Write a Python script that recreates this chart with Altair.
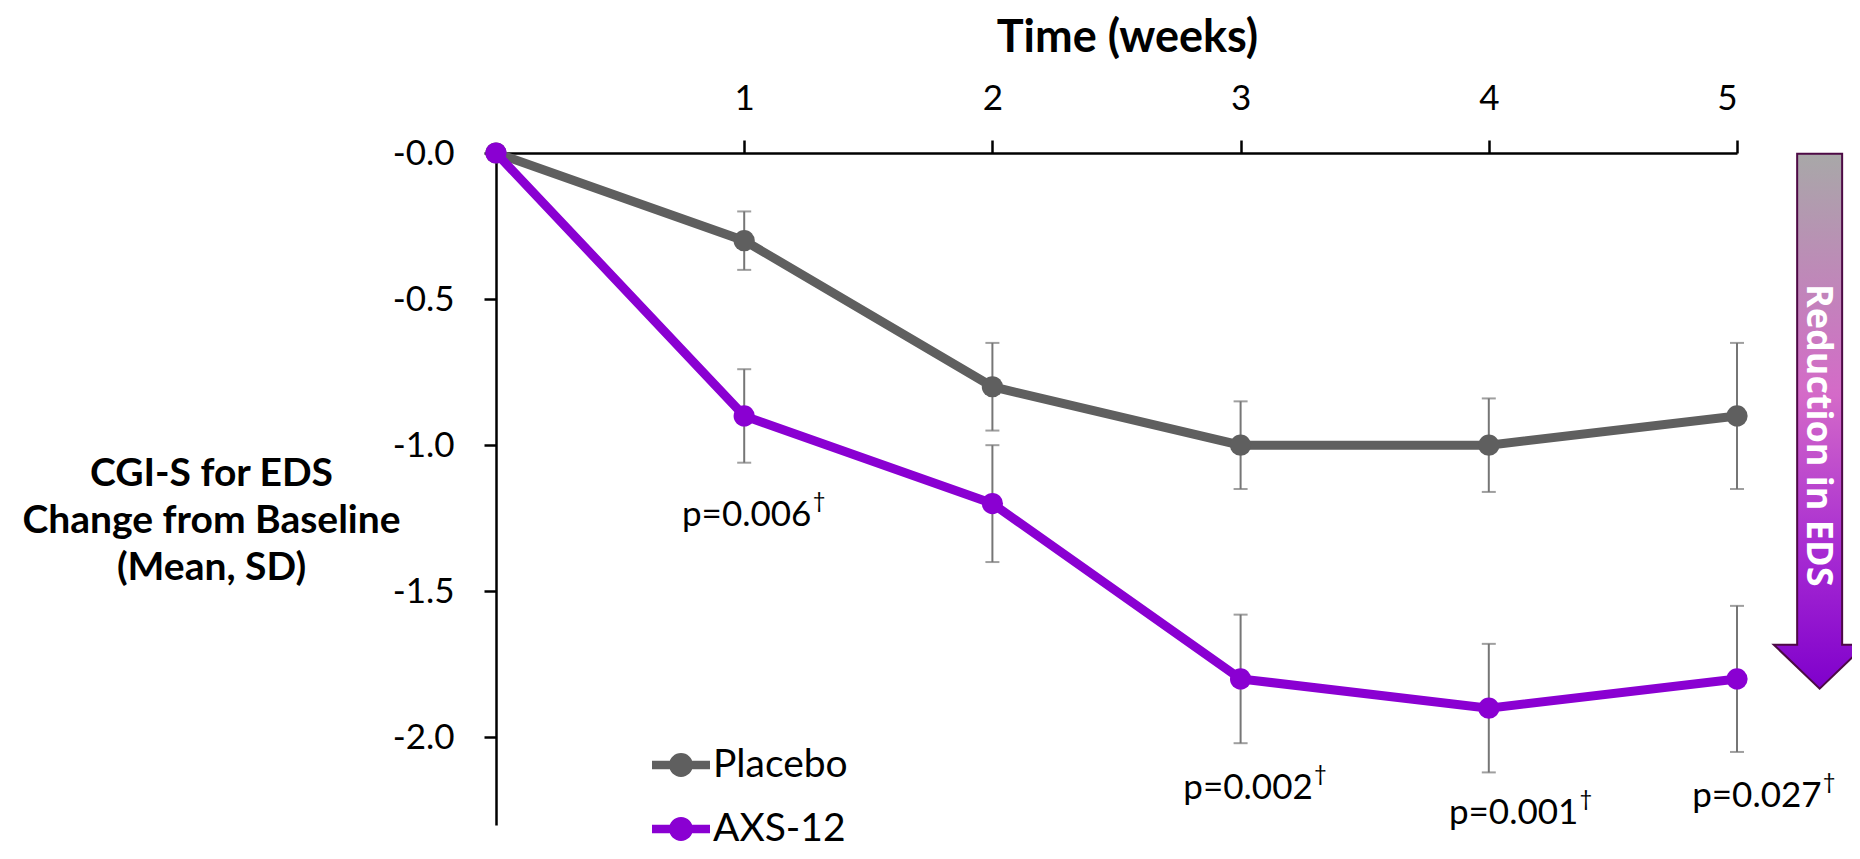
import altair as alt
import pandas as pd

# ---- data ----
weeks = [0, 1, 2, 3, 4, 5]
placebo_mean = [0.0, -0.30, -0.80, -1.00, -1.00, -0.90]
placebo_sd = [0.0, 0.10, 0.15, 0.15, 0.16, 0.25]
axs_mean = [0.0, -0.90, -1.20, -1.80, -1.90, -1.80]
axs_sd = [0.0, 0.16, 0.20, 0.22, 0.22, 0.25]
groups = ["Placebo", "AXS-12"]
colors = ["#5f5f5f", "#8a00d2"]

pval_week = [1.01, 3.03, 4.10, 5.08]
pval_y = [-1.24, -2.175, -2.26, -2.20]
pval_text = ["p=0.006", "p=0.002", "p=0.001", "p=0.027"]

x_ticks = [1, 2, 3, 4, 5]
y_ticks = [0, -0.5, -1.0, -1.5, -2.0]
y_title = ["CGI-S for EDS", "Change from Baseline", "(Mean, SD)"]
x_title = "Time (weeks)"

arrow_label = "Reduction in EDS"
arrow_pos = {"x": [5.333], "y": [-0.9195]}
arrow_text_pos = {"x": [5.327], "y": [-0.966]}

FONT = "Lato"

rows = []
for g, m, s in [("Placebo", placebo_mean, placebo_sd), ("AXS-12", axs_mean, axs_sd)]:
    for w, mv, sv in zip(weeks, m, s):
        rows.append({"week": w, "mean": mv, "sd": sv, "group": g,
                     "lo": mv - sv, "hi": mv + sv})
df = pd.DataFrame(rows)
err_df = df[df["sd"] > 0]
pdf = pd.DataFrame({"week": pval_week, "y": pval_y, "text": pval_text})

xscale = alt.Scale(domain=[0, 5], nice=False, zero=False)
yscale = alt.Scale(domain=[-2.3, 0], nice=False)

xaxis = alt.Axis(
    orient="top", values=x_ticks, format="d", title=x_title, grid=False,
    domainColor="black", domainWidth=2.5, tickColor="black", tickWidth=2.5, tickSize=13,
    labelFont=FONT, labelFontSize=35, labelColor="black", labelPadding=24,
    titleFont=FONT, titleFontSize=45, titleFontWeight="bold", titleColor="black",
    titleX=631, titleY=-116, titleAlign="center", titleBaseline="middle",
)
yaxis = alt.Axis(
    values=y_ticks, labelExpr="'-' + format(abs(datum.value), '.1f')", grid=False,
    domainColor="black", domainWidth=2.5, tickColor="black", tickWidth=2.5, tickSize=12,
    labelFont=FONT, labelFontSize=35, labelColor="black", labelPadding=30,
    title=y_title, titleAngle=0, titleX=-285, titleY=320, titleAlign="center",
    titleBaseline="middle", titleLineHeight=47,
    titleFont=FONT, titleFontSize=39, titleFontWeight="bold", titleColor="black",
)

X = alt.X("week:Q", scale=xscale, axis=xaxis)
Y = alt.Y("mean:Q", scale=yscale, axis=yaxis)

legend = alt.Legend(
    title=None, orient="none", legendX=156, legendY=583, padding=0,
    symbolType="M-1,-0.15H1V0.15H-1Z M-0.41,0A0.41,0.41 0 1,1 0.41,0A0.41,0.41 0 1,1 -0.41,0Z",
    symbolSize=3364, symbolStrokeWidth=0, symbolOpacity=1,
    labelFont=FONT, labelFontSize=39, labelColor="black", labelOffset=3,
    rowPadding=15, labelLimit=400,
)
color_leg = alt.Color("group:N", scale=alt.Scale(domain=groups, range=colors), legend=legend)

base = alt.Chart(df)
err = alt.Chart(err_df)

err_rule = err.mark_rule(color="#767676", strokeWidth=2).encode(
    x=alt.X("week:Q", scale=xscale), y=alt.Y("lo:Q", scale=yscale), y2="hi:Q")
cap_lo = err.mark_tick(color="#767676", orient="horizontal", size=14, thickness=2).encode(
    x=alt.X("week:Q", scale=xscale), y=alt.Y("lo:Q", scale=yscale))
cap_hi = err.mark_tick(color="#767676", orient="horizontal", size=14, thickness=2).encode(
    x=alt.X("week:Q", scale=xscale), y=alt.Y("hi:Q", scale=yscale))

gray_line = base.transform_filter(alt.datum.group == groups[0]).mark_line(
    strokeWidth=9, color=colors[0]).encode(x=X, y=Y)
gray_pts = base.transform_filter(alt.datum.group == groups[0]).mark_circle(
    size=450, opacity=1, color=colors[0]).encode(x=X, y=Y)
purple_line = base.transform_filter(alt.datum.group == groups[1]).mark_line(
    strokeWidth=9, color=colors[1]).encode(x=X, y=Y)
purple_pts = base.transform_filter(alt.datum.group == groups[1]).mark_circle(
    size=450, opacity=1).encode(x=X, y=Y, color=color_leg)

ptext = alt.Chart(pdf).mark_text(font=FONT, fontSize=35, color="black", align="center",
                                 baseline="middle").encode(
    x=alt.X("week:Q", scale=xscale), y=alt.Y("y:Q", scale=yscale), text="text:N")
dagger = alt.Chart(pdf).mark_text(font=FONT, fontSize=22, color="black", align="left",
                                  baseline="middle", dx=66, dy=-14).encode(
    x=alt.X("week:Q", scale=xscale), y=alt.Y("y:Q", scale=yscale), text=alt.value("\u2020"))

grad = alt.LinearGradient(
    gradient="linear", x1=0, x2=0, y1=0, y2=1,
    stops=[alt.GradientStop(offset=0, color="#a8a8a8"),
           alt.GradientStop(offset=0.45, color="#d46ac8"),
           alt.GradientStop(offset=0.75, color="#a62ad2"),
           alt.GradientStop(offset=1, color="#7f00cc")])
ARROW = ("M-0.0833,-0.9926L0.0833,-0.9926L0.0833,0.826L0.170,0.826L0,0.989"
         "L-0.170,0.826L-0.0833,0.826Z")
arrow = alt.Chart(pd.DataFrame(arrow_pos)).mark_point(
    shape=ARROW, size=291600, filled=True, fill=grad, stroke="#4d0a45", strokeWidth=2,
    opacity=1).encode(x=alt.X("x:Q", scale=xscale), y=alt.Y("y:Q", scale=yscale))
arrow_txt = alt.Chart(pd.DataFrame(arrow_text_pos)).mark_text(
    text=arrow_label, angle=90, font="Open Sans", fontWeight="bold", fontSize=36,
    color="white", align="center", baseline="middle").encode(
    x=alt.X("x:Q", scale=xscale), y=alt.Y("y:Q", scale=yscale))

chart = alt.layer(err_rule, cap_lo, cap_hi, gray_line, gray_pts, purple_line, purple_pts,
                  ptext, dagger, arrow, arrow_txt).properties(
    width=1241, height=672,
    autosize=alt.AutoSizeParams(type="none"),
    padding={"left": 488, "top": 145, "right": 115, "bottom": 26},
    background="white",
).configure_view(stroke=None)

chart.save("out.html", embed_options={"renderer": "svg", "actions": False})
